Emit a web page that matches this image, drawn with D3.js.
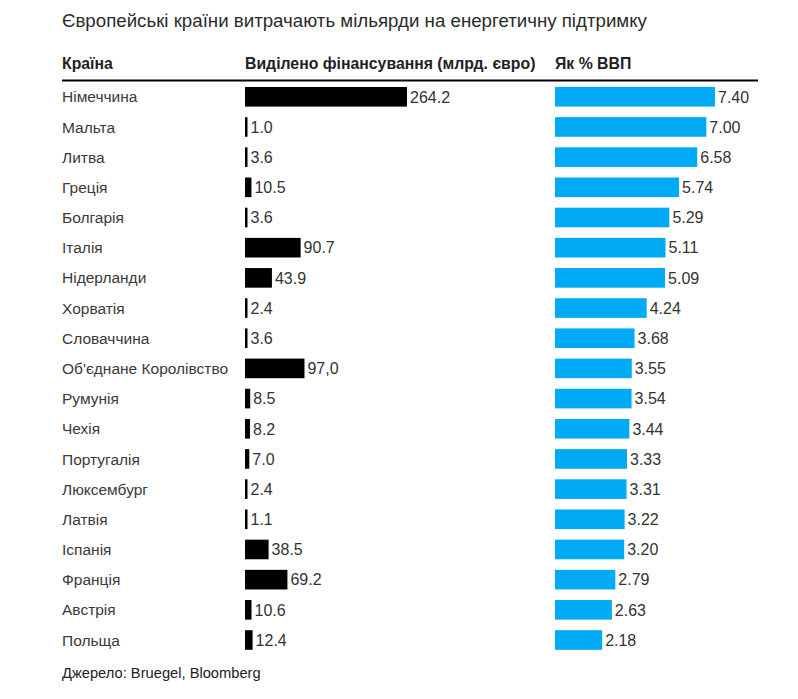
<!DOCTYPE html>
<html>
<head>
<meta charset="utf-8">
<script src="https://cdn.jsdelivr.net/npm/d3@7"></script>
<style>
  body { margin: 0; background: #fff; }
  svg { display: block; font-family: "Liberation Sans", Arial, sans-serif; }
</style>
</head>
<body>
<div id="chart"></div>
<script>
// data
var countries = ["Німеччина", "Мальта", "Литва", "Греція", "Болгарія", "Італія",
  "Нідерланди", "Хорватія", "Словаччина", "Об'єднане Королівство", "Румунія",
  "Чехія", "Португалія", "Люксембург", "Латвія", "Іспанія", "Франція", "Австрія", "Польща"];
var funding = [264.2, 1.0, 3.6, 10.5, 3.6, 90.7, 43.9, 2.4, 3.6, 97.0, 8.5, 8.2, 7.0, 2.4, 1.1, 38.5, 69.2, 10.6, 12.4];
var fundingText = ["264.2", "1.0", "3.6", "10.5", "3.6", "90.7", "43.9", "2.4", "3.6", "97,0",
  "8.5", "8.2", "7.0", "2.4", "1.1", "38.5", "69.2", "10.6", "12.4"];
var gdpShare = [7.40, 7.00, 6.58, 5.74, 5.29, 5.11, 5.09, 4.24, 3.68, 3.55, 3.54, 3.44, 3.33, 3.31, 3.22, 3.20, 2.79, 2.63, 2.18];
var headers = ["Країна", "Виділено фінансування (млрд. євро)", "Як % ВВП"];

var width = 798, height = 699;
var colCountry = 62, colFund = 245, colGdp = 555;

var svg = d3.select("#chart").append("svg")
  .attr("width", width)
  .attr("height", height);

svg.append("text")
  .attr("x", colCountry)
  .attr("y", 27)
  .attr("font-size", 18.7)
  .attr("fill", "#2b2b2b")
  .text("Європейські країни витрачають мільярди на енергетичну підтримку");

svg.selectAll(".hdr")
  .data(headers)
  .enter().append("text")
  .attr("class", "hdr")
  .attr("x", function(d, i) { return [colCountry, colFund, colGdp][i]; })
  .attr("y", 69)
  .attr("font-size", 15.8)
  .attr("font-weight", "bold")
  .attr("fill", "#222")
  .text(function(d) { return d; });

svg.append("line")
  .attr("x1", colCountry).attr("x2", 758)
  .attr("y1", 80.5).attr("y2", 80.5)
  .attr("stroke", "#000")
  .attr("stroke-width", 2);

var y = d3.scaleBand()
  .domain(countries)
  .range([81.7, 655.1])
  .paddingInner(0.35)
  .paddingOuter(0.175);

var xFund = d3.scaleLinear().domain([0, 264.2]).range([0, 162]);
var xGdp = d3.scaleLinear().domain([0, 7.4]).range([0, 160]);

var rows = svg.selectAll(".row")
  .data(countries)
  .enter().append("g")
  .attr("class", "row");

rows.append("text")
  .attr("x", colCountry)
  .attr("y", function(d) { return y(d) + y.bandwidth() / 2; })
  .attr("dy", "0.36em")
  .attr("font-size", 15.5)
  .attr("fill", "#3a3a3a")
  .text(function(d) { return d; });

// funding bars
rows.append("rect")
  .attr("x", colFund)
  .attr("y", function(d) { return y(d); })
  .attr("height", y.bandwidth())
  .attr("width", function(d, i) { return Math.max(2.5, xFund(funding[i])); })
  .attr("fill", "#000");

rows.append("text")
  .attr("x", function(d, i) { return colFund + Math.max(2.5, xFund(funding[i])) + 3; })
  .attr("y", function(d) { return y(d) + y.bandwidth() / 2; })
  .attr("dy", "0.36em")
  .attr("font-size", 16)
  .attr("fill", "#333")
  .text(function(d, i) { return fundingText[i]; });

// gdp bars
rows.append("rect")
  .attr("x", colGdp)
  .attr("y", function(d) { return y(d); })
  .attr("height", y.bandwidth())
  .attr("width", function(d, i) { return xGdp(gdpShare[i]); })
  .attr("fill", "#00aaf5");

rows.append("text")
  .attr("x", function(d, i) { return colGdp + xGdp(gdpShare[i]) + 3; })
  .attr("y", function(d) { return y(d) + y.bandwidth() / 2; })
  .attr("dy", "0.36em")
  .attr("font-size", 16)
  .attr("fill", "#333")
  .text(function(d, i) { return d3.format(".2f")(gdpShare[i]); });

svg.append("text")
  .attr("x", colCountry)
  .attr("y", 678)
  .attr("font-size", 14.7)
  .attr("fill", "#222")
  .text("Джерело: Bruegel, Bloomberg");
</script>
</body>
</html>
